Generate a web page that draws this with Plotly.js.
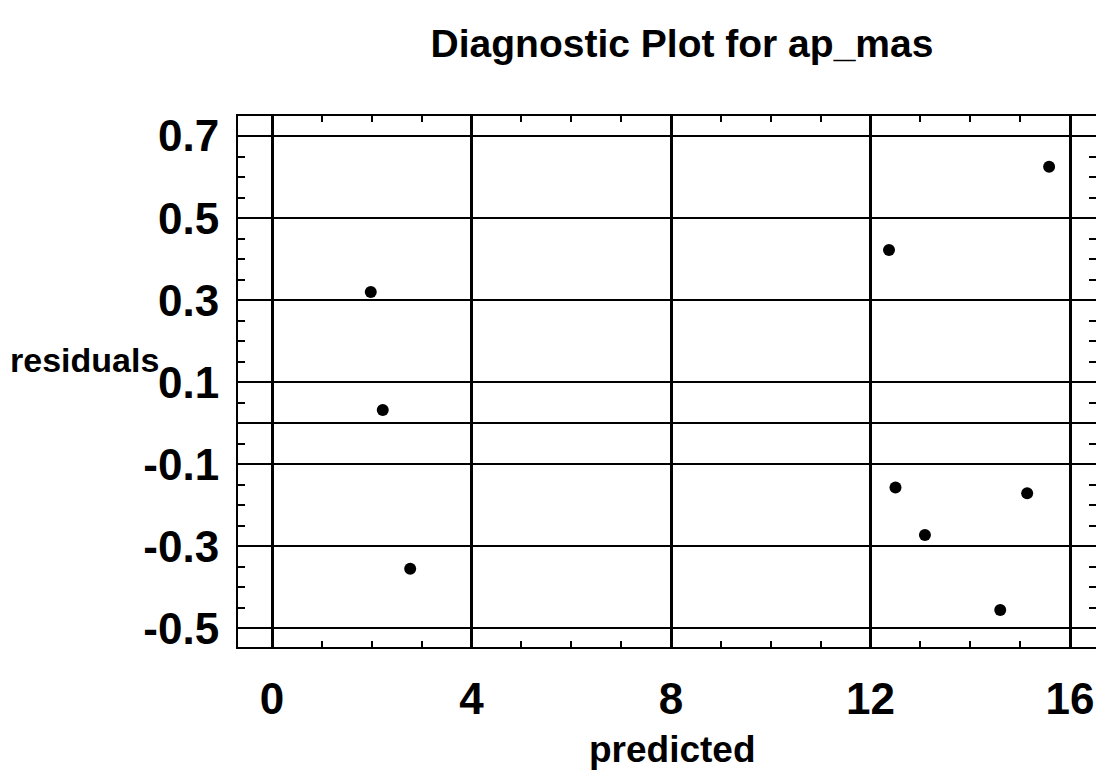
<!DOCTYPE html>
<html>
<head>
<meta charset="utf-8">
<script src="https://cdn.plot.ly/plotly-3.0.1.min.js"></script>
<style>html,body{margin:0;padding:0;background:#fff;}#chart{width:1096px;height:772px;}</style>
</head>
<body>
<div id="chart"></div>
<script>
// Data
const predicted = [1.98, 2.22, 2.77, 12.37, 12.50, 13.09, 14.60, 15.14, 15.58];
const residuals = [0.32, 0.032, -0.355, 0.422, -0.157, -0.273, -0.456, -0.171, 0.625];

const xTickVals = [0, 4, 8, 12, 16];
const xTickText = ['0', '4', '8', '12', '16'];
const yTickVals = [0.7, 0.5, 0.3, 0.1, -0.1, -0.3, -0.5];
const yTickText = ['0.7', '0.5', '0.3', '0.1', '-0.1', '-0.3', '-0.5'];

const chartTitle = 'Diagnostic Plot for ap_mas';
const xTitle = 'predicted';
const yTitle = 'residuals';

const FONT = 'Liberation Sans, Arial, sans-serif';

const trace = {
  x: predicted,
  y: residuals,
  mode: 'markers',
  type: 'scatter',
  marker: {color: '#000', size: 12, symbol: 'circle'},
  hoverinfo: 'x+y',
  showlegend: false
};

const ML = 238, MR = 0, MT = 116, MB = 125;
const plotW = 1096 - ML - MR, plotH = 772 - MT - MB;

const layout = {
  width: 1096,
  height: 772,
  margin: {l: ML, r: MR, t: MT, b: MB},
  paper_bgcolor: '#fff',
  plot_bgcolor: '#fff',
  font: {family: FONT, color: '#000'},
  title: {
    text: '<b>' + chartTitle + '</b>',
    font: {family: FONT, size: 39, color: '#000'},
    x: 682 / 1096, xref: 'container', xanchor: 'center',
    y: 1 - 43 / 772, yref: 'container', yanchor: 'middle'
  },
  xaxis: {
    range: [-0.682, 16.52],
    tickvals: xTickVals,
    ticktext: xTickText,
    tickfont: {family: FONT, size: 44, color: '#000', weight: 'bold'},
    ticks: '',
    ticklabelstandoff: 12,
    ticklabeloverflow: 'allow',
    showgrid: true, gridcolor: '#000', gridwidth: 3,
    zeroline: false,
    showline: true, linecolor: '#000', linewidth: 2, mirror: 'allticks',
    minor: {dtick: 1, tick0: 0, ticks: 'inside', ticklen: 6, tickcolor: '#000', tickwidth: 2, showgrid: false},
    fixedrange: true
  },
  yaxis: {
    range: [-0.546, 0.749],
    tickvals: yTickVals,
    ticktext: yTickText,
    tickfont: {family: FONT, size: 44, color: '#000', weight: 'bold'},
    ticks: '',
    ticklabelstandoff: 8,
    ticklabeloverflow: 'allow',
    showgrid: true, gridcolor: '#000', gridwidth: 2,
    zeroline: true, zerolinecolor: '#000', zerolinewidth: 2,
    showline: true, linecolor: '#000', linewidth: 2, mirror: 'allticks',
    minor: {dtick: 0.05, tick0: 0, ticks: 'inside', ticklen: 7, tickcolor: '#000', tickwidth: 2, showgrid: false},
    fixedrange: true
  },
  annotations: [
    {
      text: '<b>' + yTitle + '</b>',
      xref: 'paper', yref: 'paper',
      x: (84 - ML) / plotW, y: (772 - MB - 360) / plotH,
      xanchor: 'center', yanchor: 'middle',
      showarrow: false,
      font: {family: FONT, size: 34, color: '#000'}
    },
    {
      text: '<b>' + xTitle + '</b>',
      xref: 'paper', yref: 'paper',
      x: (672 - ML) / plotW, y: (772 - MB - 749) / plotH,
      xanchor: 'center', yanchor: 'middle',
      showarrow: false,
      font: {family: FONT, size: 37, color: '#000'}
    }
  ]
};

Plotly.newPlot('chart', [trace], layout, {displayModeBar: false, staticPlot: true});
</script>
</body>
</html>
